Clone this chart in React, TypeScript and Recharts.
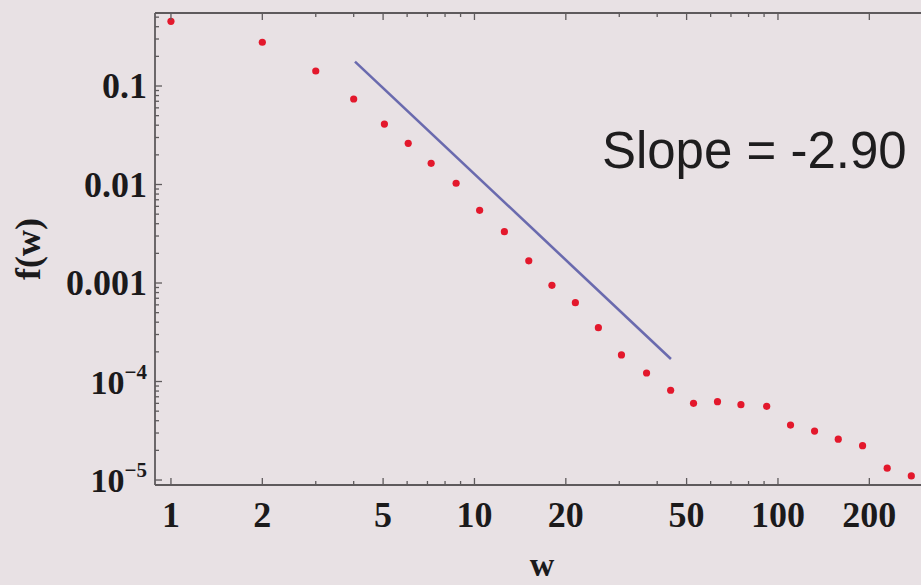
import React from 'react';
import { ScatterChart, Scatter, XAxis, YAxis, ReferenceDot, Label } from 'recharts';

// Bin centres w and the measured frequency f(w) for each bin
const weights = [1, 2, 3, 4, 5.05, 6.05, 7.2, 8.7, 10.4, 12.55, 15.1, 18, 21.5, 25.6, 30.5, 36.9, 44.3, 52.7, 63.2, 75.5, 91.8, 110, 132, 158, 190, 229, 275];
const freqs = [0.454, 0.278, 0.142, 0.0738, 0.0411, 0.0262, 0.0164, 0.0103, 0.00547, 0.00332, 0.00168, 0.000948, 0.000631, 0.000352, 0.000186, 0.000122, 8.15e-5, 6.01e-5, 6.24e-5, 5.82e-5, 5.6e-5, 3.61e-5, 3.14e-5, 2.6e-5, 2.23e-5, 1.32e-5, 1.1e-5];

// Power-law guide line
const fitSlope = -2.9;
const fitStartW = 4.04;
const fitStartF = 0.177;
const fitEndW = 44.4;
const slopeText = 'Slope = -2.90';
const slopeAnchorW = 26.3;
const slopeAnchorF = 0.0147;

// Axis ticks
const xMajorTicks = [1, 2, 5, 10, 20, 50, 100, 200];
const xMinorTicks = [3, 4, 6, 7, 8, 9, 30, 40, 60, 70, 80, 90, 300];
const yMajorTicks = [1e-5, 1e-4, 1e-3, 1e-2, 1e-1];
const yMajorLabels: string[][] = [['10', '\u22125'], ['10', '\u22124'], ['0.001'], ['0.01'], ['0.1']];
const yMinorMultipliers = [2, 3, 4, 5, 6, 7, 8, 9];

const xDomain = [0.886, 314.5];
const yDomain = [8.9e-6, 0.551];

const pointData = weights.map((w, i) => ({ w, f: freqs[i] }));
const fitData = [
  { w: fitStartW, f: fitStartF },
  { w: fitEndW, f: fitStartF * Math.pow(fitEndW / fitStartW, fitSlope) },
];
const yMinorTicks = yMajorTicks.flatMap((d) => yMinorMultipliers.map((m) => m * d)).filter((v) => v < yDomain[1]);

const axisColor = '#5e5a5c';
const labelColor = '#1b1a1b';
const serif = '"Liberation Serif", "Times New Roman", serif';

function BottomTick(props: any) {
  const { x, y, payload } = props;
  const v = payload.value;
  const major = xMajorTicks.includes(v);
  return (
    <g>
      <line x1={x} x2={x} y1={y} y2={y - (major ? 7 : 4)} stroke={axisColor} strokeWidth={1.3} />
      {major && (
        <text x={x} y={y + 42} textAnchor="middle" fontFamily={serif} fontWeight="bold" fontSize={36} fill={labelColor}>
          {v}
        </text>
      )}
    </g>
  );
}

function TopTick(props: any) {
  const { x, y, payload } = props;
  const major = xMajorTicks.includes(payload.value);
  return <line x1={x} x2={x} y1={y} y2={y + (major ? 7 : 4)} stroke={axisColor} strokeWidth={1.3} />;
}

function LeftTick(props: any) {
  const { x, y, payload } = props;
  const idx = yMajorTicks.indexOf(payload.value);
  const major = idx >= 0;
  const lbl = major ? yMajorLabels[idx] : null;
  return (
    <g>
      <line x1={x} x2={x + (major ? 7 : 4)} y1={y} y2={y} stroke={axisColor} strokeWidth={1.3} />
      {lbl && (
        <text x={x - 8} y={y + 12} textAnchor="end" fontFamily={serif} fontWeight="bold" fontSize={lbl.length > 1 ? 34 : 36} fill={labelColor}>
          <tspan>{lbl[0]}</tspan>
          {lbl.length > 1 && (
            <tspan dy={-15} fontSize={21}>
              {lbl[1]}
            </tspan>
          )}
        </text>
      )}
    </g>
  );
}

const Dot = (props: any) => <circle cx={props.cx} cy={props.cy} r={3.6} fill="#e3182c" />;
const NoDot = () => <g />;

export default function App() {
  return (
    <div style={{ position: 'absolute', left: 0, top: 0, width: 921, height: 585, overflow: 'hidden', background: '#e8e1e4' }}>
      <ScatterChart width={929} height={585} margin={{ top: 12, right: 0, bottom: 0, left: 0 }}>
        <XAxis
          xAxisId="bottom"
          dataKey="w"
          type="number"
          scale="log"
          domain={xDomain}
          allowDataOverflow
          ticks={[...xMajorTicks, ...xMinorTicks]}
          interval={0}
          tickSize={0}
          tickMargin={0}
          tick={<BottomTick />}
          axisLine={{ stroke: axisColor, strokeWidth: 1.8 }}
          height={100}
        >
          <Label
            content={({ viewBox }: any) => (
              <text
                x={viewBox.x + viewBox.width / 2}
                y={viewBox.y + viewBox.height - 9}
                textAnchor="middle"
                fontFamily={serif}
                fontWeight="bold"
                fontSize={34}
                fill={labelColor}
              >
                w
              </text>
            )}
          />
        </XAxis>
        <XAxis
          xAxisId="top"
          orientation="top"
          dataKey="w"
          type="number"
          scale="log"
          domain={xDomain}
          allowDataOverflow
          ticks={[...xMajorTicks, ...xMinorTicks]}
          interval={0}
          tickSize={0}
          tickMargin={0}
          tick={<TopTick />}
          axisLine={{ stroke: axisColor, strokeWidth: 1.8 }}
          height={1}
        />
        <YAxis
          dataKey="f"
          type="number"
          scale="log"
          domain={yDomain}
          allowDataOverflow
          ticks={[...yMajorTicks, ...yMinorTicks]}
          interval={0}
          tickSize={0}
          tickMargin={0}
          tick={<LeftTick />}
          axisLine={{ stroke: axisColor, strokeWidth: 1.8 }}
          width={155}
        >
          <Label
            content={({ viewBox }: any) => {
              const cx = viewBox.x + 28;
              const cy = viewBox.y + viewBox.height / 2;
              return (
                <text
                  x={cx}
                  y={cy}
                  transform={`rotate(-90 ${cx} ${cy})`}
                  textAnchor="middle"
                  dominantBaseline="central"
                  fontFamily={serif}
                  fontWeight="bold"
                  fontSize={36}
                  fill={labelColor}
                >
                  f(w)
                </text>
              );
            }}
          />
        </YAxis>
        <Scatter
          xAxisId="bottom"
          data={fitData}
          line={{ stroke: '#6a6aae', strokeWidth: 2.6 }}
          lineType="joint"
          shape={NoDot}
          isAnimationActive={false}
        />
        <Scatter xAxisId="bottom" data={pointData} shape={Dot} isAnimationActive={false} />
        <ReferenceDot
          xAxisId="bottom"
          x={slopeAnchorW}
          y={slopeAnchorF}
          r={0}
          fill="none"
          stroke="none"
          label={
            <Label
              content={({ viewBox }: any) => (
                <text
                  x={viewBox.x}
                  y={viewBox.y}
                  textAnchor="start"
                  fontFamily='"Liberation Sans", Arial, sans-serif'
                  fontSize={51}
                  fill="#1e1d1e"
                >
                  {slopeText}
                </text>
              )}
            />
          }
        />
      </ScatterChart>
    </div>
  );
}
